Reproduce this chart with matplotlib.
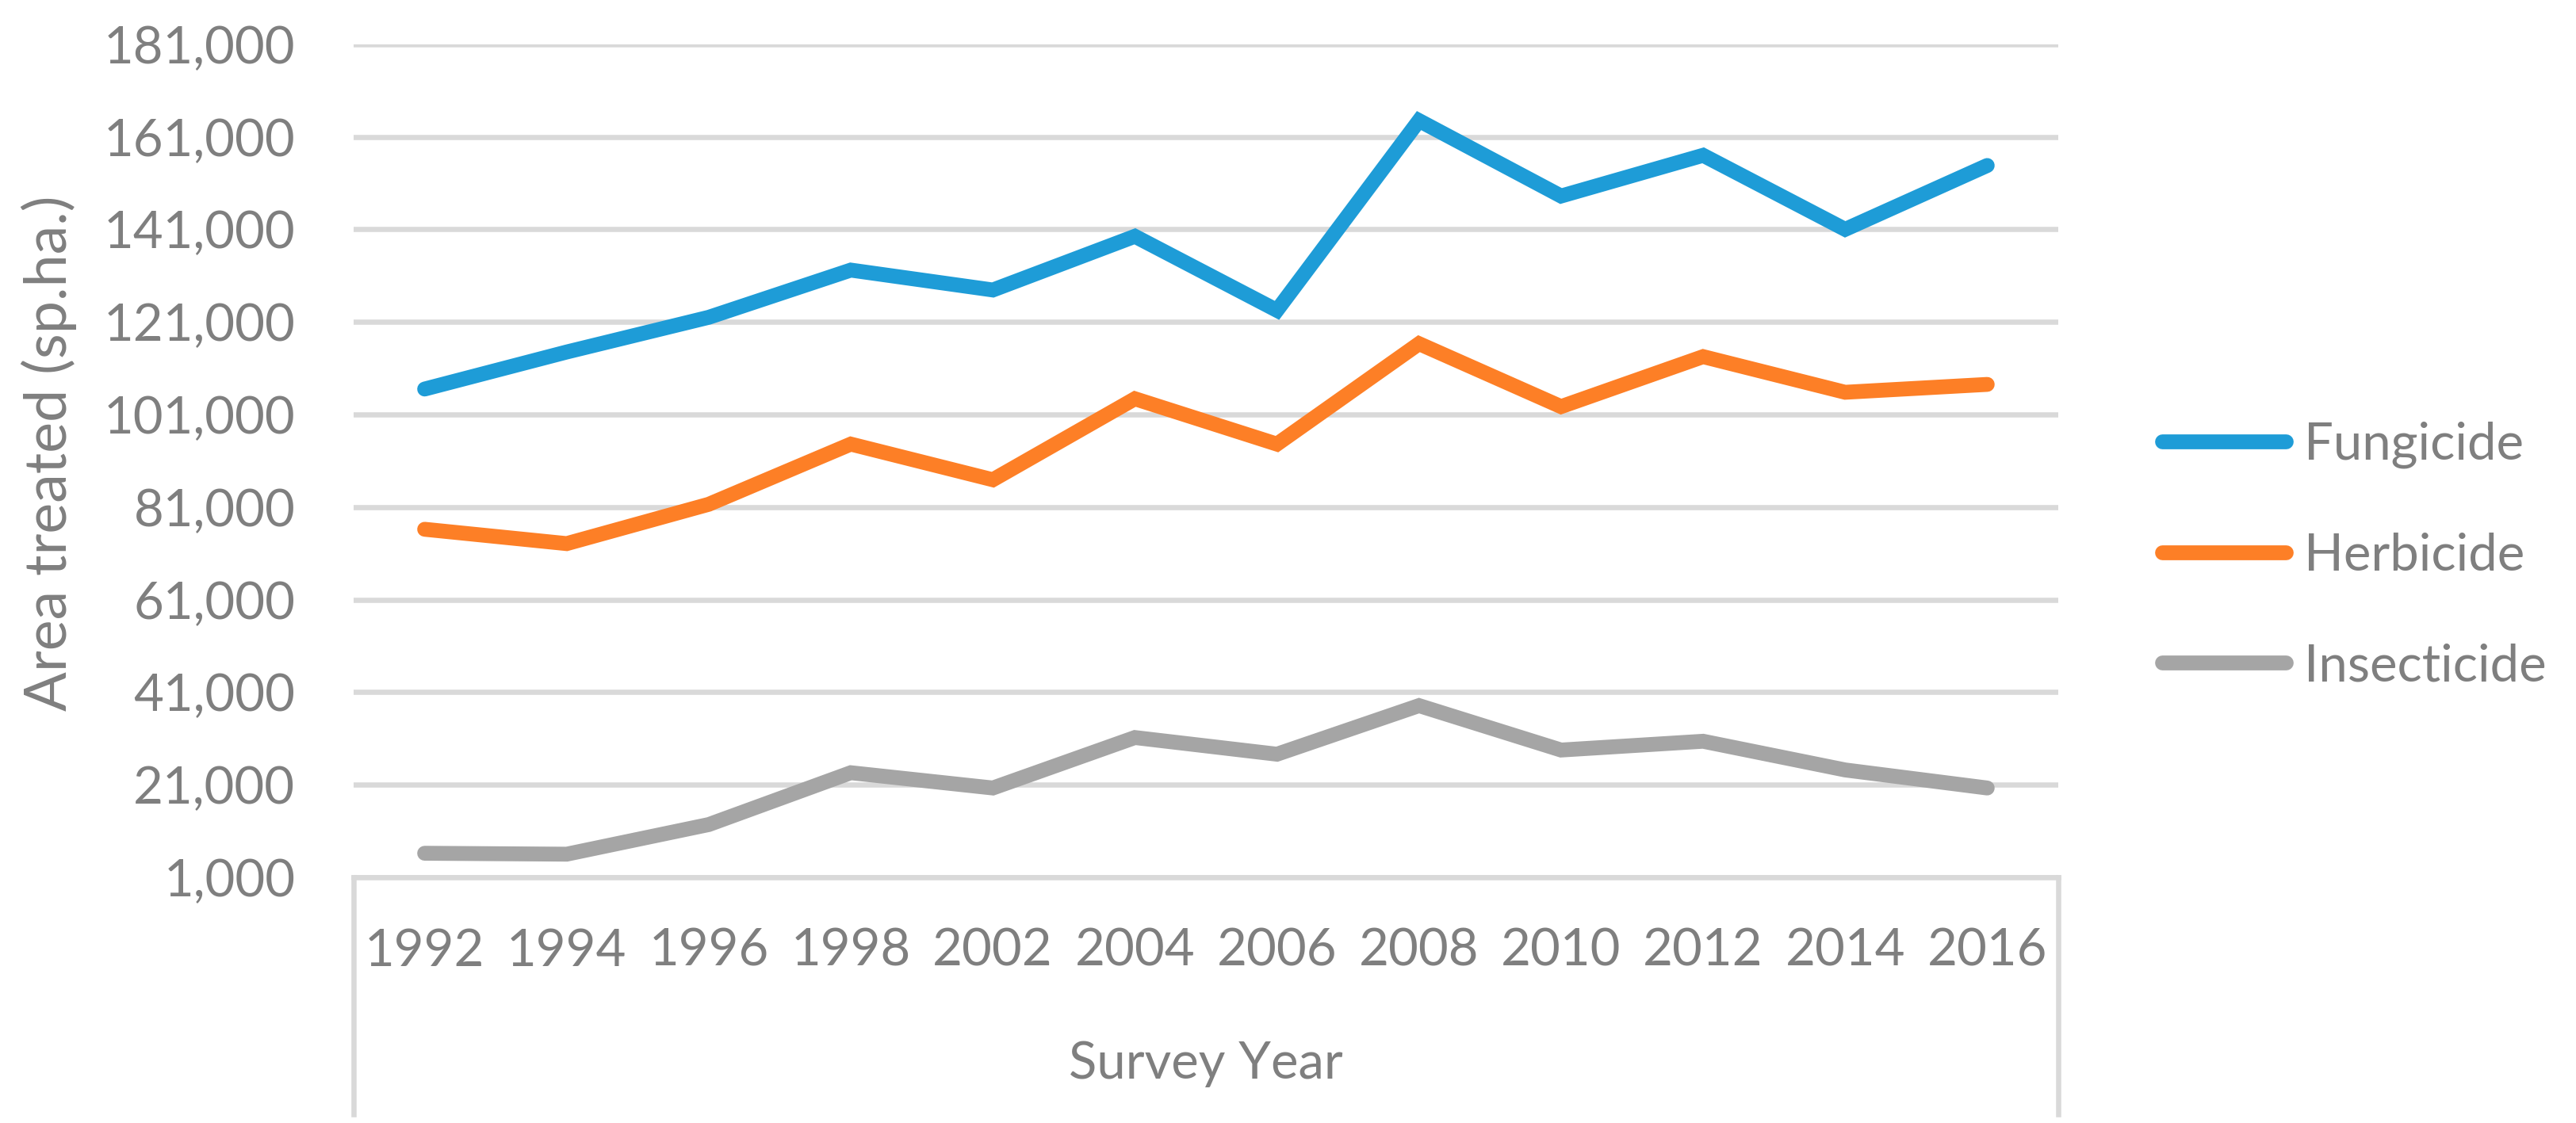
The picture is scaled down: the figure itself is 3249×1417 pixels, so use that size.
import matplotlib.pyplot as plt
from matplotlib.ticker import FuncFormatter

# survey years (categorical axis, 2000 is missing in the survey)
years = ["1992", "1994", "1996", "1998", "2002", "2004",
         "2006", "2008", "2010", "2012", "2014", "2016"]

# area treated in spray hectares
fungicide = [106500, 114500, 122000, 132200, 127900, 139500,
             123500, 164500, 148200, 157000, 141000, 154800]
herbicide = [76200, 73100, 81600, 94600, 86900, 104400,
             94600, 116300, 102700, 113500, 105800, 107500]
insecticide = [6200, 6000, 12400, 23600, 20300, 31200,
               27600, 38100, 28500, 30400, 24200, 20300]

y_ticks = list(range(1000, 181001, 20000))

text_grey = "#7f7f7f"
grid_grey = "#d9d9d9"
plt.rcParams['font.family'] = ['Lato', 'DejaVu Sans']

fig = plt.figure(figsize=(32.49, 14.17), dpi=100)
ax = fig.add_axes([0.13727, 0.21877, 0.66174, 0.74185])

x = range(len(years))
lw = 13.5
ax.plot(x, fungicide, color="#1e9cd7", lw=lw, solid_capstyle="round",
        solid_joinstyle="miter", label="Fungicide", zorder=3)
ax.plot(x, herbicide, color="#fd7f26", lw=lw, solid_capstyle="round",
        solid_joinstyle="miter", label="Herbicide", zorder=3)
ax.plot(x, insecticide, color="#a5a5a5", lw=lw, solid_capstyle="round",
        solid_joinstyle="miter", label="Insecticide", zorder=3)

ax.set_xlim(-0.5, len(years) - 0.5)
ax.set_ylim(y_ticks[0], y_ticks[-1])
ax.set_xticks(list(x))
ax.set_xticklabels(years)
ax.set_yticks(y_ticks)
ax.yaxis.set_major_formatter(FuncFormatter(lambda v, p: f"{int(v):,}"))

ax.grid(axis="y", color=grid_grey, lw=4.7)
ax.set_axisbelow(True)
for s in ["top", "right", "left"]:
    ax.spines[s].set_visible(False)
ax.spines["bottom"].set_color(grid_grey)
ax.spines["bottom"].set_linewidth(4.7)

# excel style category box under the axis
ax.axvline(-0.5, ymin=-0.284, ymax=0, color=grid_grey, lw=4.7, clip_on=False)
ax.axvline(len(years) - 0.5, ymin=-0.284, ymax=0, color=grid_grey, lw=4.7, clip_on=False)

ax.tick_params(axis="both", length=0, labelsize=47, labelcolor=text_grey)
ax.tick_params(axis="y", pad=53)
ax.tick_params(axis="x", pad=46)

ax.set_xlabel("Survey Year", fontsize=47, color=text_grey, labelpad=60)
ax.set_ylabel("Area treated (sp.ha.)", fontsize=53, color=text_grey, va="center")
ax.yaxis.set_label_coords(-0.1786, 0.509)

leg = fig.legend(loc="center left", bbox_to_anchor=(0.8393, 0.5053),
                 frameon=False, fontsize=47, handlelength=2.39,
                 handletextpad=0.35, labelspacing=1.23, borderpad=0,
                 borderaxespad=0)
for t in leg.get_texts():
    t.set_color(text_grey)

fig.savefig("out.png", dpi=100)
